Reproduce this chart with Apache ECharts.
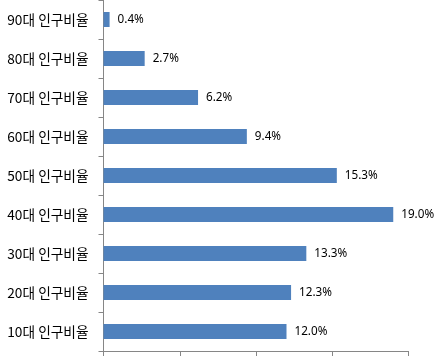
<!DOCTYPE html>
<html><head><meta charset="utf-8">
<script src="https://cdn.jsdelivr.net/npm/echarts@6/dist/echarts.min.js"></script>
<style>html,body{margin:0;padding:0;background:#fff}#c{width:443px;height:362px}</style>
</head><body><div id="c"></div>
<script>
var categories = ['10대 인구비율','20대 인구비율','30대 인구비율','40대 인구비율','50대 인구비율','60대 인구비율','70대 인구비율','80대 인구비율','90대 인구비율'];
var values = [12.0, 12.3, 13.3, 19.0, 15.3, 9.4, 6.2, 2.7, 0.4];
var xMin = 0, xMax = 20, xInterval = 5;

var chart = echarts.init(document.getElementById('c'), null, {renderer:'canvas'});
chart.setOption({
  animation: false,
  grid: {left: 103.5, right: 34.5, top: 0, bottom: 11, containLabel: false},
  xAxis: {
    type: 'value', min: xMin, max: xMax, interval: xInterval,
    axisLine: {show: true, lineStyle: {color: '#868686', width: 1}},
    axisTick: {show: true, length: 5, lineStyle: {color: '#868686'}},
    axisLabel: {show: false},
    splitLine: {show: false}
  },
  yAxis: {
    type: 'category', data: categories,
    axisLine: {show: true, lineStyle: {color: '#868686', width: 1}},
    axisTick: {show: true, length: 5, lineStyle: {color: '#868686'}},
    axisLabel: {color: '#000', fontSize: 13.7, fontFamily: '"Noto Sans CJK KR", sans-serif', margin: 15}
  },
  series: [{
    type: 'bar', data: values, barWidth: 15,
    itemStyle: {color: '#4f81bd'},
    label: {show: true, position: 'right', distance: 8, color: '#000', fontSize: 11.7, fontFamily: '"Noto Sans", sans-serif',
      formatter: function(p){ return p.value.toFixed(1) + '%'; }}
  }]
});
</script></body></html>
